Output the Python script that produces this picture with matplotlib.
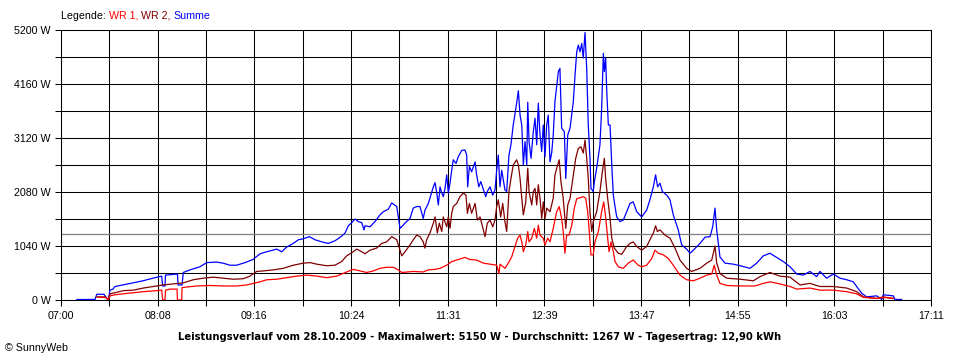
import numpy as np
import matplotlib
matplotlib.use("Agg")
import matplotlib.pyplot as plt
from matplotlib.ticker import FixedLocator, NullFormatter

# --- Daten (Minuten ab 07:00, Leistung in W) ---
t_sum = [11.2, 23.9, 25.1, 30.2, 31.6, 33.2, 34.4, 36.5, 37.9, 43.5, 50.6, 57.6, 64.6, 70.7, 71.4, 73.0,
         73.4, 81.8, 82.2, 85.0, 85.9, 90.6, 97.6, 102.3, 109.3, 113.8, 118.7, 123.4, 129.2, 134.8, 139.8,
         144.5, 151.5, 155.0, 158.5, 163.1, 166.7, 170.2, 174.4, 178.4, 183.1, 187.7, 192.4, 197.1, 199.5,
         201.8, 204.2, 206.5, 208.8, 211.2, 212.8, 213.5, 217.0, 220.5, 224.0, 226.4, 229.9, 232.3, 235.8,
         236.9, 238.1, 239.3, 241.6, 245.1, 247.4, 249.8, 252.1, 254.4, 255.6, 258.0, 259.1, 261.5, 262.7,
         263.9, 265.0, 266.2, 267.4, 268.5, 269.7, 270.9, 272.0, 273.2, 274.4, 275.5, 277.4, 279.0, 281.4,
         283.7, 284.9, 285.6, 286.8, 288.4, 290.8, 291.9, 293.4, 294.8, 297.1, 298.3, 299.4, 301.3, 303.2,
         304.8, 306.0, 307.1, 308.3, 309.5, 311.8, 313.0, 314.6, 316.0, 317.6, 320.0, 321.2, 322.4, 323.6,
         324.7, 325.9, 327.1, 327.8, 328.7, 330.1, 331.7, 332.9, 334.1, 335.2, 336.4, 337.6, 338.7, 339.9,
         341.1, 342.2, 343.4, 344.6, 345.7, 346.9, 348.1, 349.3, 350.4, 351.6, 353.5, 354.5, 355.9, 357.5,
         359.8, 361.0, 362.2, 363.3, 364.5, 365.7, 366.8, 368.0, 369.2, 370.3, 371.5, 372.2, 373.8, 374.6,
         376.2, 378.5, 379.7, 380.9, 381.6, 382.5, 383.3, 384.4, 385.6, 386.8, 387.9, 389.1, 390.3, 392.6,
         394.9, 397.3, 399.6, 401.9, 404.3, 407.8, 411.3, 413.6, 416.0, 417.6, 419.0, 420.7, 422.3, 425.4,
         427.7, 430.0, 433.5, 435.9, 439.4, 441.8, 444.1, 448.8, 452.3, 455.8, 457.7, 459.3, 460.5, 462.8,
         466.3, 472.2, 476.9, 483.9, 488.6, 493.2, 497.9, 502.6, 507.3, 512.0, 516.7, 521.3, 526.0, 530.7,
         533.0, 537.7, 542.4, 547.1, 551.8, 556.4, 558.8, 562.3, 565.8, 572.9, 576.4, 577.5, 584.5, 585.7,
         590.4]
w_sum = [10, 10, 110, 110, 60, 0, 190, 210, 260, 290, 330, 370, 420, 460, 270, 270,
         480, 500, 290, 290, 530, 580, 640, 720, 730, 710, 670, 670, 720, 780, 890,
         930, 980, 930, 1020, 1090, 1160, 1180, 1220, 1160, 1120, 1090, 1140, 1230, 1290,
         1430, 1490, 1560, 1510, 1490, 1350, 1430, 1410, 1510, 1640, 1700, 1750, 1870, 1800,
         1600, 1380, 1410, 1480, 1570, 1770, 1800, 1800, 1570, 1730, 1860, 1960, 2180, 2260,
         2060, 1830, 2180, 2060, 1990, 2150, 2410, 2060, 2250, 2500, 2700, 2630, 2760, 2880,
         2890, 2790, 2180, 2570, 2470, 2660, 2410, 2180, 2280, 2090, 1990, 2090, 2180, 2020,
         2120, 2500, 2790, 2180, 2500, 2120, 2090, 2790, 2990, 3370, 3790, 4030, 3560, 3370,
         2600, 3050, 2600, 3810, 3050, 2730, 3240, 3500, 2990, 3790, 3180, 2860, 3370, 2760,
         3370, 3560, 2660, 2830, 3180, 3820, 4110, 4400, 4460, 3310, 3240, 2340, 3180, 3310,
         3820, 4330, 4780, 4910, 4780, 4940, 4660, 5150, 4460, 3370, 2730, 2150, 2090, 2280,
         2540, 2990, 3690, 4750, 4400, 4660, 4010, 3370, 3370, 2600, 2020, 1800, 1600, 1510,
         1540, 1700, 1860, 1890, 1700, 1600, 1730, 1930, 2180, 2410, 2180, 2250, 2090, 2020,
         1930, 1640, 1350, 1060, 980, 900, 960, 1090, 1210, 1220, 1410, 1770, 1350, 830,
         710, 690, 660, 610, 710, 850, 900, 820, 740, 640, 500, 480, 550, 450,
         550, 420, 500, 420, 390, 350, 260, 130, 60, 80, 10, 100, 80, 10,
         10]

t_wr2 = [25.1, 30.9, 33.2, 34.4, 37.9, 43.8, 50.8, 57.8, 64.8, 71.8, 78.9, 85.9, 92.9, 99.9, 107.0,
         114.0, 121.0, 128.0, 132.7, 137.4, 142.1, 149.1, 156.1, 163.1, 170.2, 174.9, 179.6, 186.6,
         192.4, 197.1, 200.6, 204.2, 207.7, 211.2, 213.5, 217.0, 221.7, 225.2, 228.7, 232.3, 235.8,
         237.6, 239.3, 241.6, 245.1, 247.4, 249.8, 252.1, 254.4, 255.6, 256.8, 259.1, 261.5, 262.7,
         264.3, 265.7, 267.4, 268.5, 270.9, 272.0, 273.2, 274.4, 275.5, 277.9, 280.2, 282.5, 284.4,
         285.4, 286.8, 288.4, 290.8, 292.4, 294.3, 296.6, 297.8, 299.4, 301.3, 303.2, 304.8, 306.0,
         307.1, 308.8, 310.2, 311.8, 313.0, 314.6, 316.0, 317.6, 320.0, 321.2, 322.4, 323.6, 324.7,
         326.4, 327.8, 328.7, 330.6, 331.7, 332.9, 334.1, 335.2, 336.4, 337.6, 338.7, 339.9, 341.1,
         343.4, 345.7, 346.9, 348.8, 349.9, 351.1, 352.7, 354.5, 355.9, 357.5, 359.8, 361.5, 363.3,
         365.2, 366.8, 368.0, 369.2, 370.3, 371.5, 372.7, 373.8, 376.2, 378.5, 380.2, 381.6, 382.5,
         383.9, 385.6, 386.8, 388.6, 391.4, 393.8, 397.3, 399.6, 401.9, 404.3, 407.8, 411.3, 413.6,
         416.0, 417.6, 418.8, 420.7, 424.2, 427.7, 431.2, 434.7, 439.4, 442.9, 448.8, 453.5, 457.0,
         458.1, 459.3, 460.5, 462.8, 467.5, 476.9, 486.2, 490.9, 497.9, 504.9, 512.0, 519.0, 526.0,
         533.0, 542.4, 551.8, 558.8, 563.5, 572.9, 577.5, 584.5]
w_wr2 = [60, 60, 0, 120, 140, 180, 190, 230, 260, 290, 310, 330, 390, 420, 440,
         420, 400, 410, 460, 550, 560, 580, 610, 670, 710, 720, 690, 660,
         670, 740, 850, 910, 980, 930, 890, 960, 1000, 1090, 1120, 1220, 1160,
         1000, 850, 930, 1060, 1160, 1250, 1220, 1120, 1000, 1160, 1290, 1480, 1600,
         1290, 1480, 1320, 1600, 1410, 1600, 1380, 1670, 1800, 1860, 1990, 2060, 2020,
         1670, 1860, 1670, 1860, 1540, 1600, 1350, 1220, 1480, 1540, 1410, 1540, 1800,
         1930, 1600, 1860, 1510, 1320, 2090, 2340, 2600, 2700, 2600, 2340, 1960, 1640,
         1890, 2540, 2090, 1830, 2090, 2150, 1830, 2220, 1960, 1570, 1890, 1570, 1770,
         1700, 1960, 2410, 2600, 2700, 2280, 1960, 1380, 1830, 1960, 2410, 2730, 2920,
         2950, 2830, 3080, 2730, 2340, 1700, 1320, 1510, 1700, 2090, 2470, 2730, 2340,
         1960, 1570, 1190, 1000, 900, 880, 1030, 1090, 1120, 1030, 960, 1030, 1160,
         1290, 1430, 1320, 1350, 1250, 1190, 1000, 770, 610, 550, 610, 710, 770,
         900, 1040, 710, 510, 420, 400, 370, 450, 530, 460, 440, 290, 320,
         260, 260, 230, 160, 60, 30, 60, 30]

t_wr1 = [26.2, 31.6, 33.2, 34.4, 37.9, 43.8, 50.8, 57.8, 67.2, 70.7, 71.4, 73.0, 73.4, 76.6, 81.5,
         81.8, 84.8, 85.0, 95.3, 104.6, 114.0, 123.4, 130.4, 135.1, 139.8, 144.5, 151.5, 158.5,
         165.5, 172.6, 179.6, 186.6, 193.6, 200.6, 205.3, 210.0, 214.7, 219.3, 224.0, 228.7, 233.4,
         236.9, 239.3, 247.4, 254.4, 258.0, 262.7, 266.2, 270.9, 274.4, 279.0, 283.7, 287.2, 291.9,
         296.6, 301.3, 306.0, 307.6, 308.3, 311.8, 314.1, 316.5, 318.8, 320.7, 322.4, 323.6, 324.7,
         326.4, 327.8, 328.7, 330.6, 332.4, 334.1, 335.2, 336.4, 338.7, 339.9, 341.8, 343.4, 345.7,
         348.1, 349.9, 351.6, 352.7, 353.9, 355.1, 356.8, 358.7, 360.5, 362.2, 364.5, 366.8, 368.5,
         369.9, 371.0, 372.2, 373.8, 375.0, 377.4, 379.7, 381.1, 382.1, 383.5, 384.9, 386.3, 387.9,
         389.1, 391.4, 394.9, 398.4, 401.9, 405.4, 407.8, 411.3, 414.9, 417.2, 419.5, 423.0, 426.5,
         430.0, 434.7, 439.4, 444.1, 448.8, 453.5, 457.0, 458.8, 460.5, 462.8, 467.5, 476.9, 487.4,
         493.2, 497.9, 504.9, 512.0, 516.7, 526.0, 533.0, 542.4, 551.8, 558.8, 563.5, 572.9, 577.5,
         584.5]
w_wr1 = [50, 50, 0, 80, 100, 120, 140, 160, 180, 190, 0, 0, 190, 210, 210,
         0, 0, 240, 270, 280, 270, 270, 290, 320, 350, 390, 400, 430,
         460, 480, 460, 430, 460, 540, 590, 560, 530, 560, 610, 630, 630,
         580, 530, 550, 540, 580, 590, 610, 670, 740, 780, 820, 780, 770,
         710, 690, 670, 510, 690, 610, 710, 830, 1030, 1190, 1250, 1120, 930,
         1060, 1320, 1120, 1190, 1380, 1190, 1440, 1250, 1190, 1060, 1190, 1120, 1380,
         1700, 1800, 1570, 1320, 900, 1250, 1250, 1440, 1770, 1950, 1970, 1990, 1960,
         1700, 1320, 870, 870, 1120, 1320, 1700, 1890, 1700, 1320, 930, 1120, 930,
         740, 640, 610, 710, 770, 670, 640, 670, 800, 960, 900, 870, 800,
         670, 480, 390, 370, 420, 480, 500, 670, 480, 320, 280, 270, 270,
         320, 350, 310, 260, 210, 230, 190, 190, 160, 120, 50, 30, 50,
         30]

x_labels = ["07:00", "08:08", "09:16", "10:24", "11:31", "12:39", "13:47", "14:55", "16:03", "17:11"]
x_span = 611            # 07:00 bis 17:11 in Minuten
y_max = 5200
mittelwert = 1267
titel = "Leistungsverlauf vom 28.10.2009 - Maximalwert: 5150 W - Durchschnitt: 1267 W - Tagesertrag: 12,90 kWh"

# --- Figur ---
plt.rcParams['font.family'] = ['Liberation Sans', 'DejaVu Sans']
fig = plt.figure(figsize=(9.6, 3.6), dpi=100)
ax = fig.add_axes([61 / 960, 60 / 360, 870 / 960, 270 / 360])

ax.set_xlim(0, x_span)
ax.set_ylim(0, y_max)

# Gitter: Hauptstriche beschriftet, Nebenstriche dazwischen
ax.xaxis.set_major_locator(FixedLocator(np.linspace(0, x_span, 10)))
ax.xaxis.set_minor_locator(FixedLocator(np.linspace(0, x_span, 19)))
ax.yaxis.set_major_locator(FixedLocator(np.arange(0, y_max + 1, 1040)))
ax.yaxis.set_minor_locator(FixedLocator(np.arange(0, y_max + 1, 520)))
ax.set_xticklabels(x_labels)
ax.set_yticklabels([f"{v} W" for v in range(0, y_max + 1, 1040)])
ax.xaxis.set_minor_formatter(NullFormatter())
ax.grid(True, which='both', color='black', linewidth=0.75)
ax.set_axisbelow(True)
ax.tick_params(which='both', direction='out', length=4.3, width=0.75, color='black',
               labelsize=7.7)
ax.tick_params(axis='x', pad=3.5)
ax.tick_params(axis='y', pad=3.2)
for s in ax.spines.values():
    s.set_linewidth(0.75)

# Mittelwert
ax.axhline(mittelwert, color='#808080', linewidth=0.9, zorder=2.5)

ax.plot(t_sum, w_sum, color='#0000ff', linewidth=0.9, zorder=3)
ax.plot(t_wr2, w_wr2, color='#800000', linewidth=0.9, zorder=4)
ax.plot(t_wr1, w_wr1, color='#ff0000', linewidth=0.9, zorder=5)

# Legende oben als farbiger Text, Stück für Stück aneinandergehängt
prev = fig.text(61 / 960, 1 - 16 / 360, "Legende: ", fontsize=7.7, color='black', va='center')
for txt, col in [("WR 1, ", '#ff0000'), ("WR 2, ", '#800000'), ("Summe", '#0000ff')]:
    prev = ax.annotate(txt, xy=(1, 0), xycoords=prev, va='bottom', ha='left',
                       fontsize=7.7, color=col, annotation_clip=False)

fig.text(480 / 960, 1 - 337 / 360, titel, fontsize=7.2, fontweight='bold',
         family='DejaVu Sans', ha='center', va='center')
fig.text(5 / 960, 1 - 348 / 360, "© SunnyWeb", fontsize=7.7, ha='left', va='center')

fig.savefig("out.png", dpi=100, facecolor='white')
